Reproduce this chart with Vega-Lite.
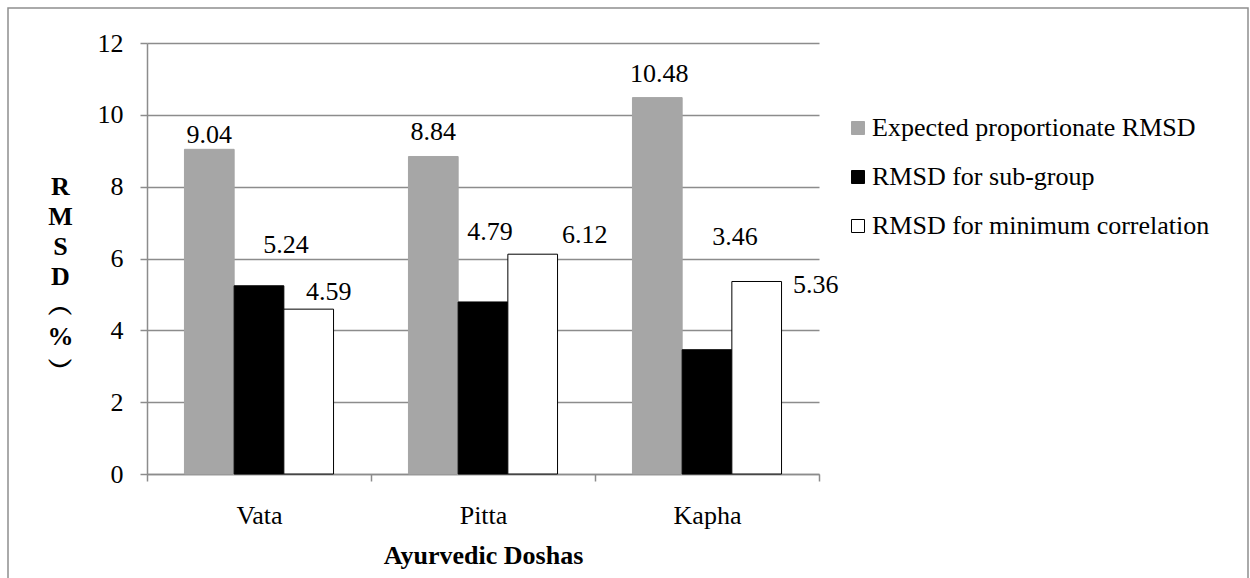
{
  "$schema": "https://vega.github.io/schema/vega-lite/v6.json",
  "width": 1240,
  "height": 575,
  "autosize": {"type": "none"},
  "padding": {"left": 8, "top": 8, "right": 2, "bottom": -5},
  "background": "white",
  "config": {
    "font": "Liberation Serif",
    "view": {"stroke": "#8f8f8f", "strokeWidth": 1.5},
    "text": {"font": "Liberation Serif", "fontSize": 26, "color": "black"}
  },
  "data": {
    "values": [
      {"dosha": "Vata", "series": "Expected proportionate RMSD", "value": 9.04},
      {"dosha": "Vata", "series": "RMSD for sub-group", "value": 5.24},
      {"dosha": "Vata", "series": "RMSD for minimum correlation", "value": 4.59},
      {"dosha": "Pitta", "series": "Expected proportionate RMSD", "value": 8.84},
      {"dosha": "Pitta", "series": "RMSD for sub-group", "value": 4.79},
      {"dosha": "Pitta", "series": "RMSD for minimum correlation", "value": 6.12},
      {"dosha": "Kapha", "series": "Expected proportionate RMSD", "value": 10.48},
      {"dosha": "Kapha", "series": "RMSD for sub-group", "value": 3.46},
      {"dosha": "Kapha", "series": "RMSD for minimum correlation", "value": 5.36}
    ]
  },
  "encoding": {
    "x": {
      "field": "dosha",
      "type": "nominal",
      "sort": ["Vata", "Pitta", "Kapha"],
      "scale": {"range": [139, 811], "paddingInner": 0, "paddingOuter": 0},
      "axis": {
        "orient": "bottom",
        "offset": -109,
        "title": "Ayurvedic Doshas",
        "labelAngle": 0,
        "labelFont": "Liberation Serif",
        "labelFontSize": 26,
        "labelColor": "black",
        "labelPadding": 21,
        "tickBand": "extent",
        "tickSize": 7,
        "tickColor": "#8c8c8c",
        "tickWidth": 1.5,
        "domainColor": "#8c8c8c",
        "domainWidth": 1.5,
        "grid": false,
        "titleFont": "Liberation Serif",
        "titleFontSize": 26,
        "titleFontWeight": "bold",
        "titleColor": "black",
        "titleX": 475,
        "titleY": 89,
        "titleAlign": "center",
        "titleBaseline": "alphabetic"
      }
    },
    "xOffset": {
      "field": "series",
      "type": "nominal",
      "sort": ["Expected proportionate RMSD", "RMSD for sub-group", "RMSD for minimum correlation"],
      "scale": {"paddingInner": 0, "paddingOuter": 0.754}
    },
    "y": {
      "field": "value",
      "type": "quantitative",
      "scale": {"domain": [0, 12], "range": [466, 35], "nice": false, "zero": true},
      "axis": {
        "orient": "left",
        "offset": -139,
        "values": [0, 2, 4, 6, 8, 10, 12],
        "grid": true,
        "gridColor": "#8c8c8c",
        "gridWidth": 1.5,
        "domainColor": "#8c8c8c",
        "domainWidth": 1.5,
        "tickColor": "#8c8c8c",
        "tickWidth": 1.5,
        "tickSize": 7,
        "labelFont": "Liberation Serif",
        "labelFontSize": 26,
        "labelColor": "black",
        "labelPadding": 17,
        "title": ["R", "M", "S", "D", "︵", "%", "︶"],
        "titleAngle": 0,
        "titleAlign": "center",
        "titleBaseline": "alphabetic",
        "titleX": -87,
        "titleY": 186,
        "titleFont": "Liberation Serif",
        "titleFontSize": 26,
        "titleFontWeight": "bold",
        "titleColor": "black",
        "titleLineHeight": 30
      }
    }
  },
  "layer": [
    {
      "mark": {"type": "bar", "strokeWidth": 1},
      "encoding": {
        "fill": {
          "field": "series",
          "type": "nominal",
          "scale": {
            "domain": ["Expected proportionate RMSD", "RMSD for sub-group", "RMSD for minimum correlation"],
            "range": ["#a6a6a6", "#000000", "#ffffff"]
          },
          "legend": {
            "title": null,
            "orient": "none",
            "legendX": 837,
            "legendY": 107,
            "symbolType": "square",
            "symbolSize": 169,
            "symbolStrokeWidth": 1,
            "labelFont": "Liberation Serif",
            "labelFontSize": 26,
            "labelColor": "black",
            "labelLimit": 600,
            "labelOffset": 1,
            "rowPadding": 23,
            "padding": 0
          }
        },
        "stroke": {
          "field": "series",
          "type": "nominal",
          "scale": {
            "domain": ["Expected proportionate RMSD", "RMSD for sub-group", "RMSD for minimum correlation"],
            "range": ["#a6a6a6", "#000000", "#000000"]
          }
        }
      }
    },
    {
      "transform": [{"filter": "datum.dosha == 'Vata' && datum.series == 'Expected proportionate RMSD'"}],
      "mark": {"type": "text", "baseline": "alphabetic", "dx": 0, "dy": -6},
      "encoding": {"text": {"field": "value", "type": "quantitative", "format": ".2f"}}
    },
    {
      "transform": [{"filter": "datum.dosha == 'Vata' && datum.series == 'RMSD for sub-group'"}],
      "mark": {"type": "text", "baseline": "alphabetic", "dx": 27, "dy": -33},
      "encoding": {"text": {"field": "value", "type": "quantitative", "format": ".2f"}}
    },
    {
      "transform": [{"filter": "datum.dosha == 'Vata' && datum.series == 'RMSD for minimum correlation'"}],
      "mark": {"type": "text", "baseline": "alphabetic", "dx": 20, "dy": -9},
      "encoding": {"text": {"field": "value", "type": "quantitative", "format": ".2f"}}
    },
    {
      "transform": [{"filter": "datum.dosha == 'Pitta' && datum.series == 'Expected proportionate RMSD'"}],
      "mark": {"type": "text", "baseline": "alphabetic", "dx": 0, "dy": -16},
      "encoding": {"text": {"field": "value", "type": "quantitative", "format": ".2f"}}
    },
    {
      "transform": [{"filter": "datum.dosha == 'Pitta' && datum.series == 'RMSD for sub-group'"}],
      "mark": {"type": "text", "baseline": "alphabetic", "dx": 7, "dy": -62},
      "encoding": {"text": {"field": "value", "type": "quantitative", "format": ".2f"}}
    },
    {
      "transform": [{"filter": "datum.dosha == 'Pitta' && datum.series == 'RMSD for minimum correlation'"}],
      "mark": {"type": "text", "baseline": "alphabetic", "dx": 52, "dy": -11},
      "encoding": {"text": {"field": "value", "type": "quantitative", "format": ".2f"}}
    },
    {
      "transform": [{"filter": "datum.dosha == 'Kapha' && datum.series == 'Expected proportionate RMSD'"}],
      "mark": {"type": "text", "baseline": "alphabetic", "dx": 2, "dy": -16},
      "encoding": {"text": {"field": "value", "type": "quantitative", "format": ".2f"}}
    },
    {
      "transform": [{"filter": "datum.dosha == 'Kapha' && datum.series == 'RMSD for sub-group'"}],
      "mark": {"type": "text", "baseline": "alphabetic", "dx": 28, "dy": -105},
      "encoding": {"text": {"field": "value", "type": "quantitative", "format": ".2f"}}
    },
    {
      "transform": [{"filter": "datum.dosha == 'Kapha' && datum.series == 'RMSD for minimum correlation'"}],
      "mark": {"type": "text", "baseline": "alphabetic", "dx": 59, "dy": 12},
      "encoding": {"text": {"field": "value", "type": "quantitative", "format": ".2f"}}
    }
  ]
}
